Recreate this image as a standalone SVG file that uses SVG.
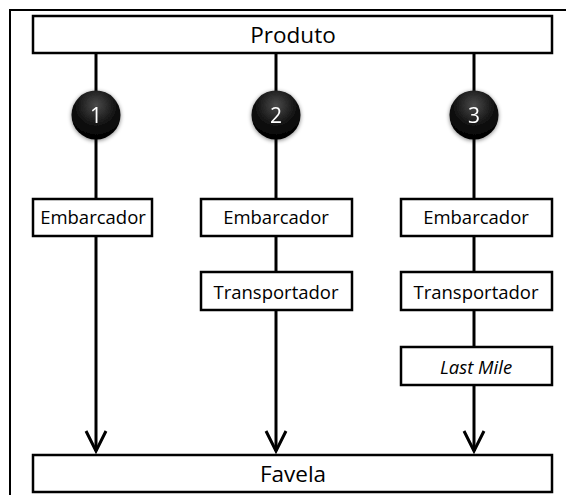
<svg xmlns="http://www.w3.org/2000/svg" width="566" height="495" viewBox="0 0 566 495">
<style>
.box{fill:#fff;stroke:#000;stroke-width:2.5}
.t{font-family:"Open Sans","Liberation Sans",Arial,sans-serif;fill:#000;text-anchor:middle}
.big{font-size:22.5px}
.sm{font-size:18.5px}
.line{stroke:#000;stroke-width:3;fill:none}
.num{font-family:"Open Sans","Liberation Sans",Arial,sans-serif;font-size:21px;fill:#fff;text-anchor:middle}
</style>
<defs>
<radialGradient id="ball" cx="0.5" cy="0.3" r="0.7">
<stop offset="0" stop-color="#4a4a4a"/>
<stop offset="0.6" stop-color="#111"/>
<stop offset="1" stop-color="#000"/>
</radialGradient>
<filter id="sh" x="-30%" y="-30%" width="160%" height="160%">
<feGaussianBlur in="SourceAlpha" stdDeviation="2"/>
<feOffset dy="1"/>
<feComponentTransfer><feFuncA type="linear" slope="0.5"/></feComponentTransfer>
<feMerge><feMergeNode/><feMergeNode in="SourceGraphic"/></feMerge>
</filter>
<marker id="arr" markerWidth="24" markerHeight="24" refX="21" refY="12" orient="auto" markerUnits="userSpaceOnUse" viewBox="0 0 24 24">
<path d="M1,2 L21,12 L1,22" fill="none" stroke="#000" stroke-width="3"/>
</marker>
</defs>
<path d="M10,495 V10 H566" fill="none" stroke="#000" stroke-width="2"/>
<g id="connectors">
<line class="line" x1="96" y1="53" x2="96" y2="198"/>
<line class="line" x1="96" y1="236" x2="96" y2="451" marker-end="url(#arr)"/>
<line class="line" x1="276" y1="53" x2="276" y2="198"/>
<line class="line" x1="276" y1="236" x2="276" y2="272"/>
<line class="line" x1="276" y1="310" x2="276" y2="451" marker-end="url(#arr)"/>
<line class="line" x1="474" y1="53" x2="474" y2="198"/>
<line class="line" x1="474" y1="236" x2="474" y2="272"/>
<line class="line" x1="474" y1="310" x2="474" y2="347"/>
<line class="line" x1="474" y1="385" x2="474" y2="451" marker-end="url(#arr)"/>
</g>
<g id="produto"><rect class="box" x="33" y="16" width="519" height="37"/><text class="t big" x="293" y="43">Produto</text></g>
<g id="n1" filter="url(#sh)"><circle cx="96" cy="115" r="24.5" fill="url(#ball)"/><text class="num" x="96" y="123">1</text></g>
<g id="n2" filter="url(#sh)"><circle cx="276" cy="115" r="24.5" fill="url(#ball)"/><text class="num" x="276" y="123">2</text></g>
<g id="n3" filter="url(#sh)"><circle cx="474" cy="115" r="24.5" fill="url(#ball)"/><text class="num" x="474" y="123">3</text></g>
<g id="emb1"><rect class="box" x="33" y="199" width="119" height="37"/><text class="t sm" x="93" y="224">Embarcador</text></g>
<g id="emb2"><rect class="box" x="201" y="199" width="151" height="37"/><text class="t sm" x="276" y="224">Embarcador</text></g>
<g id="emb3"><rect class="box" x="401" y="199" width="151" height="37"/><text class="t sm" x="476" y="224">Embarcador</text></g>
<g id="trans2"><rect class="box" x="201" y="272" width="151" height="38"/><text class="t sm" x="276" y="299">Transportador</text></g>
<g id="trans3"><rect class="box" x="401" y="272" width="151" height="38"/><text class="t sm" x="476" y="299">Transportador</text></g>
<g id="last"><rect class="box" x="401" y="347" width="151" height="38"/><text class="t sm" x="476" y="374" font-style="italic">Last Mile</text></g>
<g id="favela"><rect class="box" x="33" y="455" width="519" height="37"/><text class="t big" x="293" y="482">Favela</text></g>
</svg>
